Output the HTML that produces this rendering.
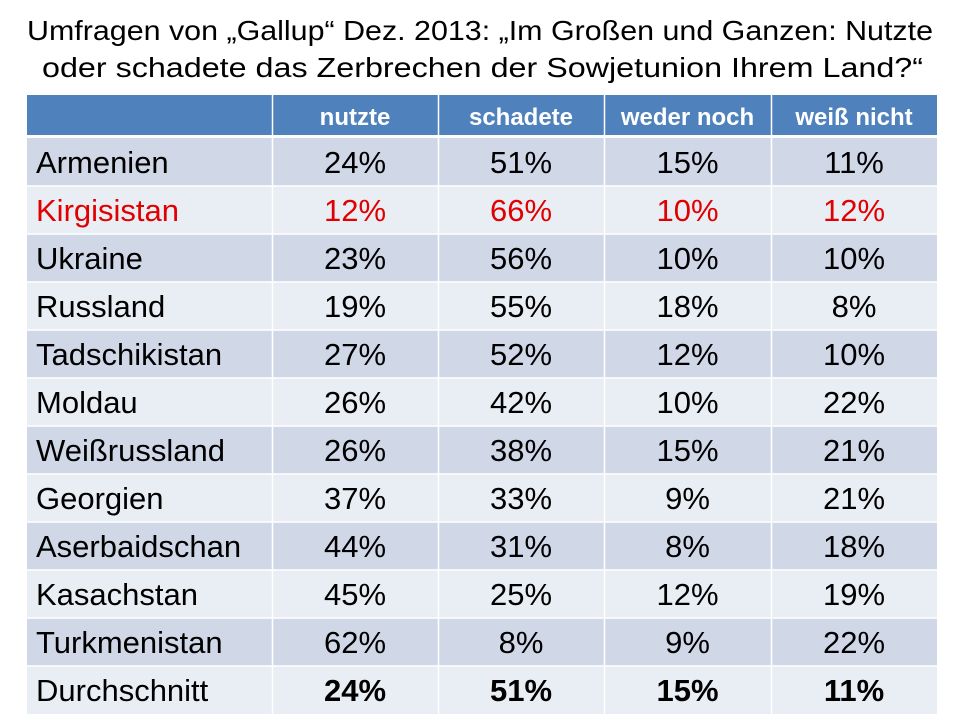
<!DOCTYPE html>
<html>
<head>
<meta charset="utf-8">
<style>
  html,body{margin:0;padding:0;background:#fff;}
  svg{display:block;}
  text{font-family:"Liberation Sans",Arial,sans-serif;}
</style>
</head>
<body>
<svg width="960" height="720" viewBox="0 0 960 720" xmlns="http://www.w3.org/2000/svg">
  <rect x="0" y="0" width="960" height="720" fill="#fff"/>
  <!-- Title -->
  <text x="480" y="40" font-size="28" text-anchor="middle" fill="#000" textLength="906" lengthAdjust="spacingAndGlyphs">Umfragen von „Gallup“ Dez. 2013: „Im Großen und Ganzen: Nutzte</text>
  <text x="482.5" y="77" font-size="28" text-anchor="middle" fill="#000" textLength="881" lengthAdjust="spacingAndGlyphs">oder schadete das Zerbrechen der Sowjetunion Ihrem Land?“</text>

  <!-- Header -->
  <rect x="27" y="95" width="910" height="40" fill="#4F81BD"/>
  <!-- Body rows -->
  <g>
    <rect x="27" y="138" width="910" height="48" fill="#D0D8E8"/>
    <rect x="27" y="186" width="910" height="48" fill="#E9EDF4"/>
    <rect x="27" y="234" width="910" height="48" fill="#D0D8E8"/>
    <rect x="27" y="282" width="910" height="48" fill="#E9EDF4"/>
    <rect x="27" y="330" width="910" height="48" fill="#D0D8E8"/>
    <rect x="27" y="378" width="910" height="48" fill="#E9EDF4"/>
    <rect x="27" y="426" width="910" height="48" fill="#D0D8E8"/>
    <rect x="27" y="474" width="910" height="48" fill="#E9EDF4"/>
    <rect x="27" y="522" width="910" height="48" fill="#D0D8E8"/>
    <rect x="27" y="570" width="910" height="48" fill="#E9EDF4"/>
    <rect x="27" y="618" width="910" height="48" fill="#D0D8E8"/>
    <rect x="27" y="666" width="910" height="48" fill="#E9EDF4"/>
  </g>
  <!-- White grid lines -->
  <g stroke="#fff" stroke-width="1.5">
    <line x1="27" y1="186" x2="937" y2="186"/>
    <line x1="27" y1="234" x2="937" y2="234"/>
    <line x1="27" y1="282" x2="937" y2="282"/>
    <line x1="27" y1="330" x2="937" y2="330"/>
    <line x1="27" y1="378" x2="937" y2="378"/>
    <line x1="27" y1="426" x2="937" y2="426"/>
    <line x1="27" y1="474" x2="937" y2="474"/>
    <line x1="27" y1="522" x2="937" y2="522"/>
    <line x1="27" y1="570" x2="937" y2="570"/>
    <line x1="27" y1="618" x2="937" y2="618"/>
    <line x1="27" y1="666" x2="937" y2="666"/>
    <line x1="272.5" y1="95" x2="272.5" y2="714"/>
    <line x1="438.5" y1="95" x2="438.5" y2="714"/>
    <line x1="604.5" y1="95" x2="604.5" y2="714"/>
    <line x1="771.5" y1="95" x2="771.5" y2="714"/>
  </g>

  <!-- Header text -->
  <g font-size="24" font-weight="bold" fill="#fff" text-anchor="middle">
    <text x="355" y="125">nutzte</text>
    <text x="521" y="125">schadete</text>
    <text x="687.5" y="125">weder noch</text>
    <text x="854" y="125">weiß nicht</text>
  </g>

  <!-- Body text -->
  <g font-size="31" fill="#000">
    <text x="36" y="173">Armenien</text>
    <text x="36" y="221" fill="#E00000">Kirgisistan</text>
    <text x="36" y="269">Ukraine</text>
    <text x="36" y="317">Russland</text>
    <text x="36" y="365">Tadschikistan</text>
    <text x="36" y="413">Moldau</text>
    <text x="36" y="461">Weißrussland</text>
    <text x="36" y="509">Georgien</text>
    <text x="36" y="557">Aserbaidschan</text>
    <text x="36" y="605">Kasachstan</text>
    <text x="36" y="653">Turkmenistan</text>
    <text x="36" y="701">Durchschnitt</text>
  </g>

  <g font-size="31" fill="#000" text-anchor="middle">
    <!-- nutzte -->
    <text x="355" y="173">24%</text>
    <text x="355" y="221" fill="#E00000">12%</text>
    <text x="355" y="269">23%</text>
    <text x="355" y="317">19%</text>
    <text x="355" y="365">27%</text>
    <text x="355" y="413">26%</text>
    <text x="355" y="461">26%</text>
    <text x="355" y="509">37%</text>
    <text x="355" y="557">44%</text>
    <text x="355" y="605">45%</text>
    <text x="355" y="653">62%</text>
    <text x="355" y="701" font-weight="bold">24%</text>
    <!-- schadete -->
    <text x="521" y="173">51%</text>
    <text x="521" y="221" fill="#E00000">66%</text>
    <text x="521" y="269">56%</text>
    <text x="521" y="317">55%</text>
    <text x="521" y="365">52%</text>
    <text x="521" y="413">42%</text>
    <text x="521" y="461">38%</text>
    <text x="521" y="509">33%</text>
    <text x="521" y="557">31%</text>
    <text x="521" y="605">25%</text>
    <text x="521" y="653">8%</text>
    <text x="521" y="701" font-weight="bold">51%</text>
    <!-- weder noch -->
    <text x="687.5" y="173">15%</text>
    <text x="687.5" y="221" fill="#E00000">10%</text>
    <text x="687.5" y="269">10%</text>
    <text x="687.5" y="317">18%</text>
    <text x="687.5" y="365">12%</text>
    <text x="687.5" y="413">10%</text>
    <text x="687.5" y="461">15%</text>
    <text x="687.5" y="509">9%</text>
    <text x="687.5" y="557">8%</text>
    <text x="687.5" y="605">12%</text>
    <text x="687.5" y="653">9%</text>
    <text x="687.5" y="701" font-weight="bold">15%</text>
    <!-- weiß nicht -->
    <text x="854" y="173">11%</text>
    <text x="854" y="221" fill="#E00000">12%</text>
    <text x="854" y="269">10%</text>
    <text x="854" y="317">8%</text>
    <text x="854" y="365">10%</text>
    <text x="854" y="413">22%</text>
    <text x="854" y="461">21%</text>
    <text x="854" y="509">21%</text>
    <text x="854" y="557">18%</text>
    <text x="854" y="605">19%</text>
    <text x="854" y="653">22%</text>
    <text x="854" y="701" font-weight="bold">11%</text>
  </g>
</svg>
</body>
</html>
